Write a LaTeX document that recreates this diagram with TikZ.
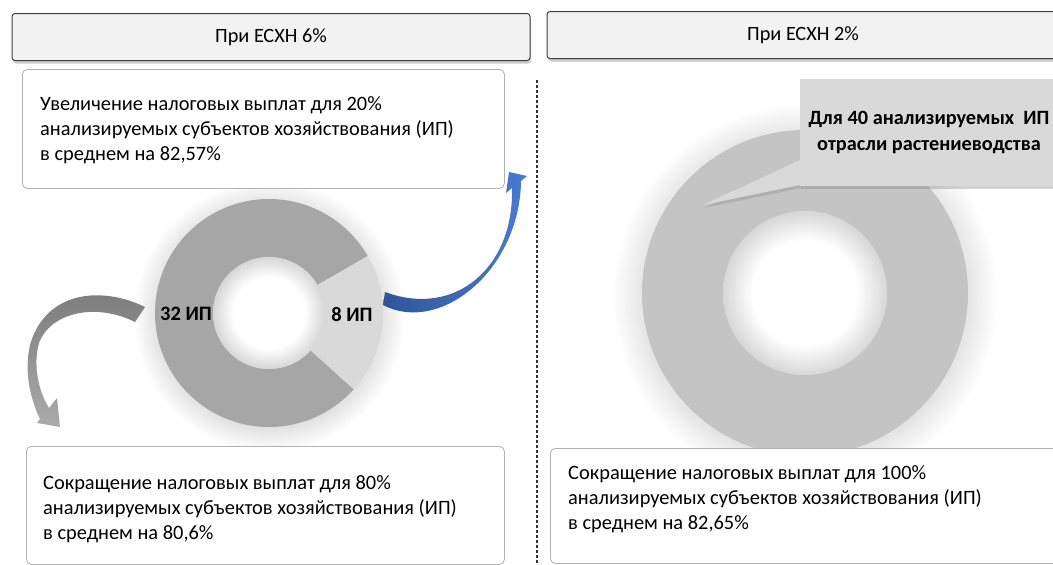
\documentclass[tikz,border=0pt]{standalone}
\usepackage{fontspec}
\setmainfont{Carlito}
\usetikzlibrary{positioning,calc,shadows}
\definecolor{hdrfill}{HTML}{F2F2F2}
\definecolor{blueA}{HTML}{2F5597}
\definecolor{blueB}{HTML}{4A7BD0}
\pgfdeclareradialshading{glow}{\pgfpoint{0bp}{0bp}}{color(0bp)=(black!13); color(20bp)=(black!13); color(25bp)=(white); color(50bp)=(white)}
\pgfdeclareradialshading{hole}{\pgfpoint{0bp}{0bp}}{color(0bp)=(white); color(16bp)=(white); color(25bp)=(black!16); color(50bp)=(black!16)}

\begin{document}
\begin{tikzpicture}[x=1pt, y=-1pt,
  hdr/.style={draw=black!75, line width=1pt, fill=hdrfill, rounded corners=3pt,
    drop shadow={opacity=0.4, shadow xshift=1pt, shadow yshift=-3pt},
    minimum height=47pt, font=\fontsize{20.3}{24}\selectfont},
  box/.style={draw=black!30, line width=0.8pt, fill=white, rounded corners=5pt, anchor=north west},
  txt/.style={anchor=north west, align=left, inner sep=0pt, font=\fontsize{20.4}{25.3}\selectfont},
  lbl/.style={font=\fontsize{20.5}{24}\selectfont\bfseries}]
  \useasboundingbox (0,0) rectangle (1053,565);
  \fill[white] (0,0) rectangle (1053,565);

  \node[hdr, minimum width=518pt] (h6) at (271,37) {При ЕСХН 6\%};
  \node[hdr, minimum width=512pt] (h2) at (803,35) {При ЕСХН 2\%};
  \draw[black!80, line width=1.4pt, dash pattern=on 3pt off 2pt] (537,80) -- (537,565);

  \coordinate (cL) at (269,313);
  \shade[shading=glow] ([yshift=-3pt]cL) circle[radius=136];
  \fill[black!35] (cL) ++(42:114) arc[start angle=42, end angle=330, radius=114]
    -- ($(cL)+(330:56)$) arc[start angle=330, end angle=42, radius=56] -- cycle;
  \fill[black!15] (cL) ++(-30:114) arc[start angle=-30, end angle=42, radius=114]
    -- ($(cL)+(42:56)$) arc[start angle=42, end angle=-30, radius=56] -- cycle;
  \shade[shading=hole] (cL) circle[radius=56];
  \node[lbl] (n32) at (186,314) {32 ИП};
  \node[lbl] (n8) at (352,314) {8 ИП};

  \coordinate (cR) at (805,293);
  \shade[shading=glow] ([yshift=-3pt]cR) circle[radius=193];
  \fill[black!23, even odd rule] (cR) circle[radius=163] circle[radius=82];
  \shade[shading=hole] (cR) circle[radius=82];

  \fill[black!15, drop shadow={opacity=0.3, shadow xshift=1pt, shadow yshift=-3pt}]
    (800,160) -- (703,205) -- (800,185) -- cycle;
  \node[fill=black!15, minimum width=258pt, minimum height=107pt, align=center,
    drop shadow={opacity=0.35, shadow xshift=1pt, shadow yshift=-3pt},
    font=\fontsize{20.3}{26}\selectfont\bfseries] (call) at (929,132)
    {Для 40 анализируемых~ ИП\\отрасли растениеводства};

  \node[box, minimum width=482pt, minimum height=119pt] (b1) at (22,69) {};
  \node[txt] (t1) at ([xshift=18pt, yshift=-27pt]b1.north west)
    {Увеличение налоговых выплат для 20\%\\анализируемых субъектов хозяйствования (ИП)\\в среднем на 82,57\%};
  \node[box, minimum width=478pt, minimum height=118pt] (b2) at (26,446) {};
  \node[txt] (t2) at ([xshift=17pt, yshift=-29pt]b2.north west)
    {Сокращение налоговых выплат для 80\%\\анализируемых субъектов хозяйствования (ИП)\\в среднем на 80,6\%};
  \node[box, minimum width=520pt, minimum height=115pt] (b3) at (550,448) {};
  \node[txt] (t3) at ([xshift=18pt, yshift=-17pt]b3.north west)
    {Сокращение налоговых выплат для 100\%\\анализируемых субъектов хозяйствования (ИП)\\в среднем на 82,65\%};

  \shade[left color=blueA, right color=blueB]
    (383,305) .. controls (440,335) and (520,270) .. (521,181) -- (527,176) -- (509,172)
    -- (506,193) -- (512,188) .. controls (514,268) and (455,318) .. (385,292) -- cycle;
  \shade[top color=black!52, bottom color=black!33]
    (145,307) .. controls (100,285) and (45,292) .. (30,345)
    .. controls (24,372) and (30,398) .. (40,419) -- (37,423) -- (60,427) -- (57,398)
    -- (49,408) .. controls (38,390) and (33,365) .. (39,343)
    .. controls (50,313) and (95,302) .. (135,322) -- cycle;
\end{tikzpicture}
\end{document}
